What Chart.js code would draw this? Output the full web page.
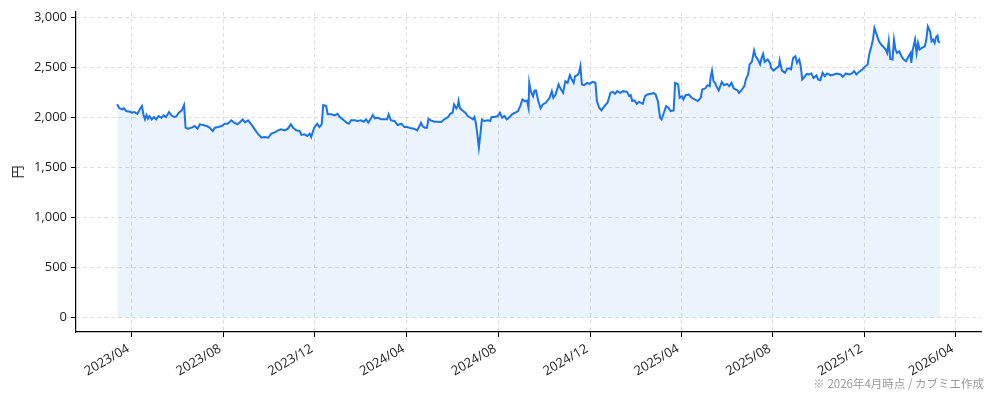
<!DOCTYPE html>
<html lang="ja">
<head>
<meta charset="utf-8">
<script src="https://cdn.jsdelivr.net/npm/chart.js@4.4.1/dist/chart.umd.min.js"></script>
<style>
  html, body { margin: 0; padding: 0; background: #fff; }
  #chart { display: block; }
</style>
</head>
<body>
<canvas id="chart" width="994" height="400" style="width:994px;height:400px"></canvas>
<script>
// 株価（終値）: 日付と値
const dates = [
  '2023-03-13','2023-03-16','2023-03-20','2023-03-22','2023-03-25','2023-03-30','2023-04-02','2023-04-05','2023-04-09','2023-04-12',
  '2023-04-15','2023-04-17','2023-04-19','2023-04-21','2023-04-23','2023-04-25','2023-04-28','2023-05-01','2023-05-04','2023-05-07',
  '2023-05-11','2023-05-14','2023-05-17','2023-05-21','2023-05-24','2023-05-28','2023-05-31','2023-06-03','2023-06-07','2023-06-10',
  '2023-06-12','2023-06-15','2023-06-20','2023-06-24','2023-06-28','2023-07-01','2023-07-05','2023-07-10','2023-07-14','2023-07-18',
  '2023-07-21','2023-07-25','2023-07-30','2023-08-03','2023-08-07','2023-08-12','2023-08-15','2023-08-20','2023-08-24','2023-08-27',
  '2023-08-30','2023-09-03','2023-09-07','2023-09-12','2023-09-16','2023-09-21','2023-09-25','2023-09-30','2023-10-04','2023-10-08',
  '2023-10-13','2023-10-17','2023-10-22','2023-10-26','2023-10-30','2023-11-02','2023-11-06','2023-11-11','2023-11-13','2023-11-17',
  '2023-11-21','2023-11-24','2023-11-26','2023-11-30','2023-12-04','2023-12-07','2023-12-10','2023-12-12','2023-12-16','2023-12-18',
  '2023-12-23','2023-12-27','2023-12-31','2024-01-03','2024-01-07','2024-01-12','2024-01-15','2024-01-18','2024-01-23','2024-01-27',
  '2024-01-31','2024-02-04','2024-02-07','2024-02-10','2024-02-14','2024-02-16','2024-02-19','2024-02-23','2024-02-27','2024-03-02',
  '2024-03-06','2024-03-08','2024-03-11','2024-03-16','2024-03-20','2024-03-25','2024-03-29','2024-04-02','2024-04-07','2024-04-11',
  '2024-04-15','2024-04-18','2024-04-20','2024-04-22','2024-04-25','2024-04-28','2024-04-30','2024-05-03','2024-05-08','2024-05-12',
  '2024-05-17','2024-05-21','2024-05-26','2024-05-29','2024-06-01','2024-06-03','2024-06-06','2024-06-08','2024-06-09','2024-06-11',
  '2024-06-15','2024-06-18','2024-06-21','2024-06-25','2024-06-28','2024-06-30','2024-07-02','2024-07-04','2024-07-06','2024-07-08',
  '2024-07-10','2024-07-13','2024-07-18','2024-07-21','2024-07-23','2024-07-27','2024-07-31','2024-08-03','2024-08-06','2024-08-09',
  '2024-08-12','2024-08-15','2024-08-19','2024-08-23','2024-08-27','2024-08-30','2024-09-02','2024-09-05','2024-09-08','2024-09-10',
  '2024-09-11','2024-09-13','2024-09-16','2024-09-18','2024-09-20','2024-09-23','2024-09-26','2024-09-29','2024-10-03','2024-10-08',
  '2024-10-11','2024-10-13','2024-10-16','2024-10-20','2024-10-22','2024-10-26','2024-10-29','2024-11-01','2024-11-04','2024-11-06',
  '2024-11-09','2024-11-11','2024-11-14','2024-11-16','2024-11-18','2024-11-20','2024-11-23','2024-11-27','2024-11-30','2024-12-04',
  '2024-12-08','2024-12-10','2024-12-13','2024-12-16','2024-12-20','2024-12-24','2024-12-28','2024-12-31','2025-01-03','2025-01-06',
  '2025-01-10','2025-01-14','2025-01-19','2025-01-22','2025-01-24','2025-01-26','2025-01-29','2025-02-01','2025-02-04','2025-02-09',
  '2025-02-12','2025-02-15','2025-02-20','2025-02-23','2025-02-26','2025-03-01','2025-03-04','2025-03-06','2025-03-09','2025-03-12',
  '2025-03-15','2025-03-18','2025-03-22','2025-03-24','2025-03-28','2025-03-30','2025-04-02','2025-04-04','2025-04-07','2025-04-11',
  '2025-04-15','2025-04-19','2025-04-23','2025-04-27','2025-04-29','2025-05-03','2025-05-06','2025-05-09','2025-05-10','2025-05-12',
  '2025-05-14','2025-05-16','2025-05-19','2025-05-21','2025-05-25','2025-05-28','2025-06-01','2025-06-04','2025-06-07','2025-06-10',
  '2025-06-15','2025-06-17','2025-06-20','2025-06-24','2025-06-26','2025-06-29','2025-07-01','2025-07-04','2025-07-07','2025-07-09',
  '2025-07-12','2025-07-15','2025-07-17','2025-07-19','2025-07-21','2025-07-25','2025-07-28','2025-07-30','2025-08-02','2025-08-06',
  '2025-08-09','2025-08-10','2025-08-13','2025-08-17','2025-08-20','2025-08-23','2025-08-25','2025-08-28','2025-08-31','2025-09-02',
  '2025-09-05','2025-09-07','2025-09-09','2025-09-11','2025-09-15','2025-09-18','2025-09-21','2025-09-24','2025-09-28','2025-09-30',
  '2025-10-03','2025-10-06','2025-10-09','2025-10-12','2025-10-17','2025-10-21','2025-10-25','2025-10-30','2025-11-02','2025-11-06',
  '2025-11-10','2025-11-14','2025-11-17','2025-11-20','2025-11-23','2025-11-28','2025-12-02','2025-12-05','2025-12-07','2025-12-10',
  '2025-12-12','2025-12-14','2025-12-17','2025-12-20','2025-12-23','2025-12-26','2025-12-29','2025-12-31','2026-01-02','2026-01-04',
  '2026-01-07','2026-01-09','2026-01-11','2026-01-13','2026-01-16','2026-01-19','2026-01-22','2026-01-25','2026-01-29','2026-01-31',
  '2026-02-01','2026-02-03','2026-02-06','2026-02-08','2026-02-10','2026-02-12','2026-02-15','2026-02-19','2026-02-21','2026-02-23',
  '2026-02-26','2026-02-28','2026-03-02','2026-03-04','2026-03-06','2026-03-08','2026-03-09','2026-03-11'
];
const prices = [
  2132,2092,2080,2092,2064,2057,2047,2054,2037,2080,
  2114,2030,1981,2024,1987,2014,1981,2004,1981,2014,
  1997,2021,2004,2054,2021,2004,2014,2047,2071,2124,
  1898,1888,1898,1914,1888,1931,1924,1914,1898,1864,
  1898,1904,1914,1937,1937,1971,1950,1931,1957,1981,
  1950,1971,1935,1881,1838,1797,1805,1797,1838,1848,
  1871,1881,1871,1888,1931,1898,1871,1864,1825,1831,
  1815,1838,1805,1898,1937,1904,1931,2124,2114,2031,
  2031,2021,2037,2004,1981,1947,1937,1971,1971,1964,
  1971,1957,1981,1947,1997,2024,1991,1997,1981,1981,
  1981,2031,1971,1964,1924,1937,1904,1904,1891,1888,
  1871,1914,1947,1914,1898,1898,1987,1971,1957,1957,
  1954,1981,2004,2037,2047,2130,2091,2114,2164,2091,
  2064,2047,2014,1997,1981,2004,1947,1831,1698,1831,
  1981,1964,1971,1964,2004,2004,2014,2047,1997,2014,
  1981,1997,2031,2047,2064,2114,2180,2164,2170,2097,
  2346,2263,2213,2270,2270,2164,2091,2130,2147,2197,
  2263,2197,2230,2330,2296,2246,2363,2346,2423,2390,
  2346,2413,2423,2446,2513,2330,2323,2346,2336,2356,
  2346,2164,2097,2071,2114,2147,2246,2256,2236,2263,
  2246,2263,2256,2213,2223,2164,2170,2136,2156,2136,
  2213,2230,2236,2246,2230,2164,1997,1981,2047,2114,
  2097,2064,2071,2346,2330,2197,2213,2180,2223,2230,
  2197,2180,2164,2197,2280,2290,2323,2313,2396,2469,
  2363,2346,2296,2270,2356,2323,2336,2313,2346,2290,
  2270,2246,2270,2313,2380,2430,2530,2556,2669,2612,
  2579,2530,2596,2636,2556,2579,2546,2490,2469,2496,
  2513,2570,2469,2446,2490,2490,2480,2596,2612,2546,
  2579,2513,2380,2396,2436,2430,2440,2396,2420,2380,
  2373,2446,2413,2440,2420,2430,2440,2430,2406,2440,
  2430,2440,2463,2430,2453,2480,2513,2530,2629,2712,
  2779,2895,2829,2762,2729,2705,2679,2645,2762,2585,
  2579,2779,2679,2645,2662,2612,2579,2562,2619,2645,
  2546,2679,2779,2645,2745,2679,2695,2712,2779,2911,
  2861,2762,2779,2745,2805,2819,2762,2745
];
const xTickDates = ['2023-04-01','2023-08-01','2023-12-01','2024-04-01','2024-08-01','2024-12-01',
                    '2025-04-01','2025-08-01','2025-12-01','2026-04-01'];
const xTickLabels = ['2023/04','2023/08','2023/12','2024/04','2024/08','2024/12',
                     '2025/04','2025/08','2025/12','2026/04'];
const yTicks = [0, 500, 1000, 1500, 2000, 2500, 3000];

const FONT = "'Open Sans', 'Noto Sans CJK JP', sans-serif";
const JP_FONT = "'Noto Sans CJK JP', sans-serif";

const points = dates.map((d, i) => ({ x: Date.parse(d), y: prices[i] }));
const tickMs = xTickDates.map(d => Date.parse(d));

// matplotlib風の余白 (5%)
const xLo = points[0].x, xHi = points[points.length - 1].x;
const xPad = (xHi - xLo) * 0.05;
const yHi = Math.max(...prices);
const yPad = yHi * 0.05;

const gridColor = 'rgba(0,0,0,0.13)';

const footnote = {
  id: 'footnote',
  afterDraw(chart) {
    const ctx = chart.ctx;
    ctx.save();
    ctx.font = '11.5px ' + JP_FONT;
    ctx.fillStyle = '#999999';
    ctx.textAlign = 'right';
    ctx.textBaseline = 'middle';
    ctx.fillText('※ 2026年4月時点 / カブミエ作成', 984, 384);
    ctx.restore();
  }
};

new Chart(document.getElementById('chart'), {
  type: 'line',
  data: {
    datasets: [{
      label: '株価',
      data: points,
      borderColor: '#1a73e8',
      borderWidth: 2,
      backgroundColor: 'rgba(26,115,232,0.085)',
      fill: 'origin',
      pointRadius: 0,
      tension: 0
    }]
  },
  options: {
    responsive: false,
    animation: false,
    devicePixelRatio: 1,
    layout: { padding: { left: 0, top: 10, right: 13, bottom: 0 } },
    plugins: {
      legend: { display: false },
      tooltip: { enabled: false }
    },
    scales: {
      x: {
        type: 'linear',
        min: xLo - xPad,
        max: xHi + xPad,
        afterBuildTicks: (scale) => { scale.ticks = tickMs.map(v => ({ value: v })); },
        afterFit: (scale) => { scale.height = 68; },
        ticks: {
          autoSkip: false,
          maxRotation: 30,
          minRotation: 30,
          padding: 4,
          labelOffset: -3,
          color: '#222',
          font: { family: FONT, size: 13 },
          callback: (v) => {
            const i = tickMs.indexOf(v);
            return i >= 0 ? xTickLabels[i] : '';
          }
        },
        grid: {
          color: gridColor,
          tickColor: '#000',
          tickLength: 5,
          tickBorderDash: []
        },
        border: { display: true, color: '#000', width: 1.2, dash: [4, 3] }
      },
      y: {
        min: -yPad,
        max: yHi + yPad,
        afterBuildTicks: (scale) => { scale.ticks = yTicks.map(v => ({ value: v })); },
        afterFit: (scale) => { scale.width = 76; },
        title: {
          display: true,
          text: '円',
          color: '#222',
          font: { family: JP_FONT, size: 13 },
          padding: { top: 9, bottom: 0 }
        },
        ticks: {
          padding: 4,
          color: '#222',
          font: { family: FONT, size: 13 },
          callback: (v) => v.toLocaleString('en-US')
        },
        grid: {
          color: gridColor,
          tickColor: '#000',
          tickLength: 5,
          tickBorderDash: []
        },
        border: { display: true, color: '#000', width: 1.2, dash: [4, 3] }
      }
    }
  },
  plugins: [footnote]
});
</script>
</body>
</html>
